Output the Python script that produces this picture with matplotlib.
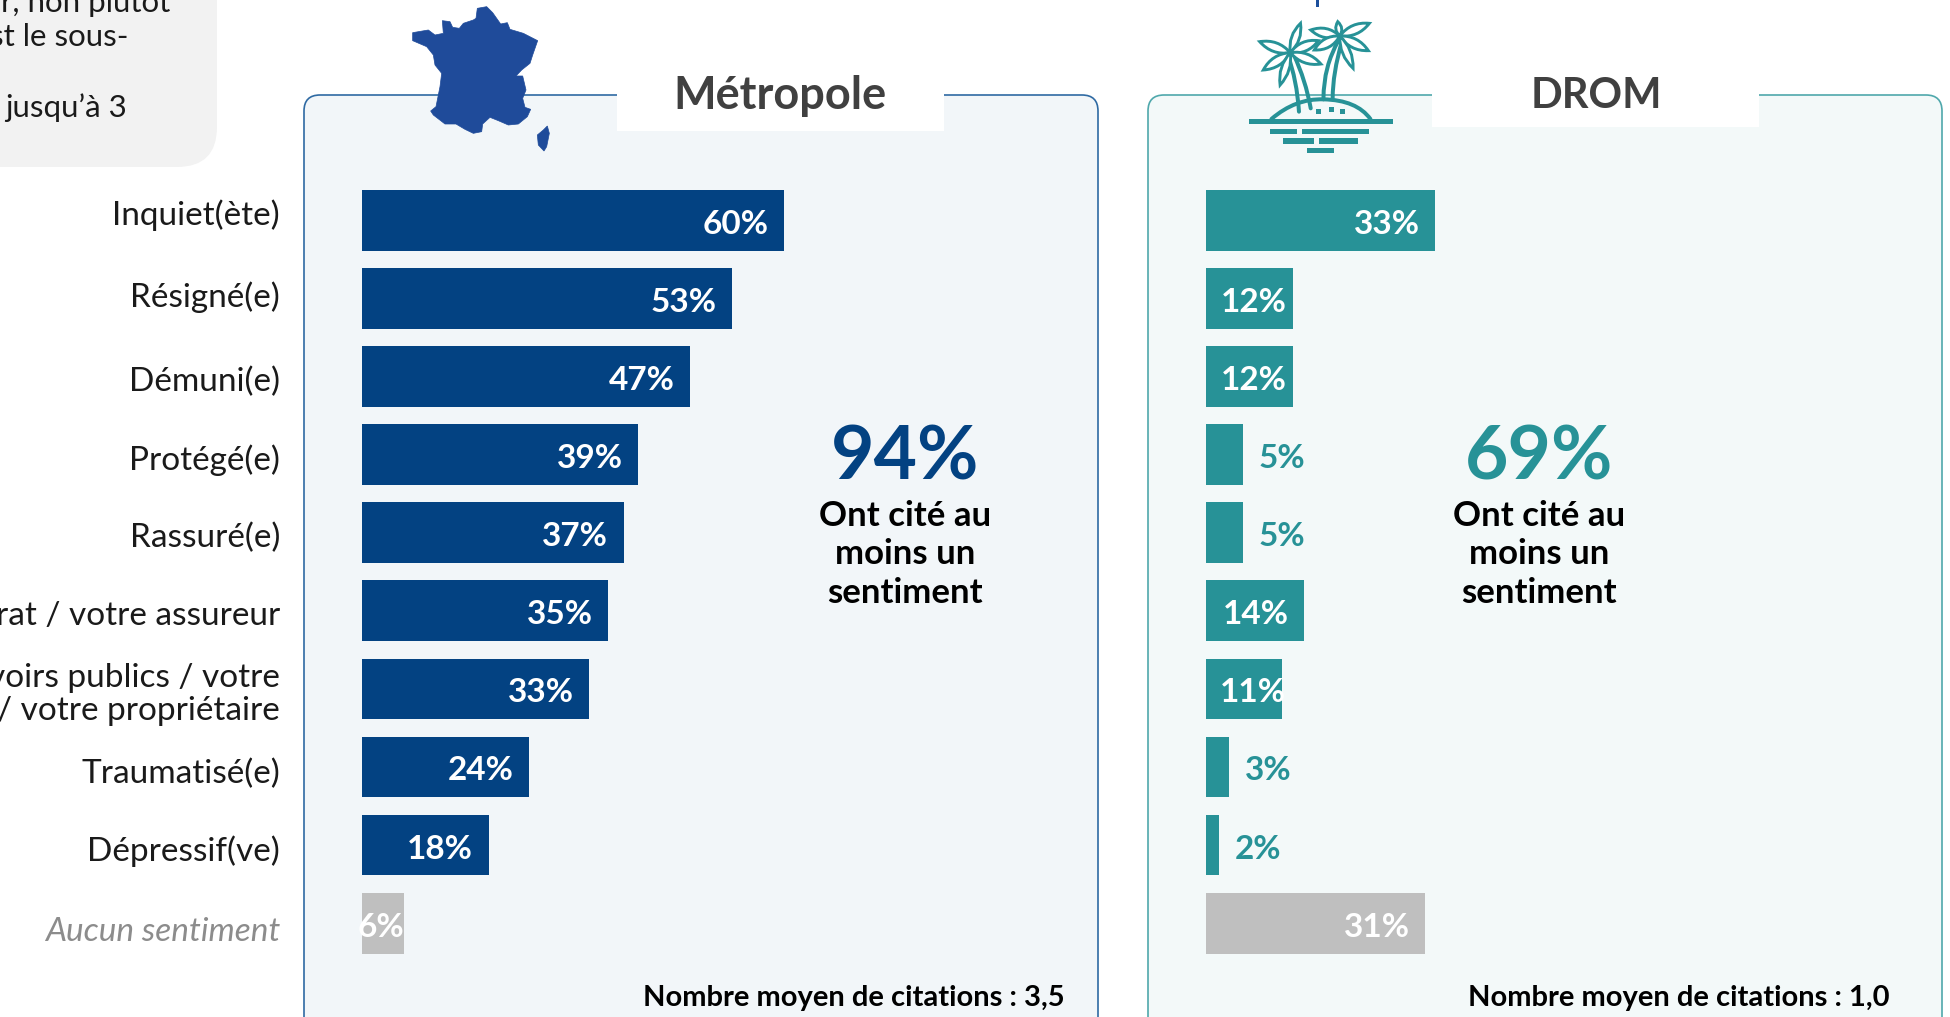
import numpy as np
import matplotlib
matplotlib.use("Agg")
import matplotlib.pyplot as plt
from matplotlib.patches import FancyBboxPatch, Rectangle, Polygon, PathPatch
from matplotlib.path import Path

plt.rcParams['font.family'] = ['Lato', 'DejaVu Sans']

categories = ["Inquiet(ète)", "Résigné(e)", "Démuni(e)", "Protégé(e)", "Rassuré(e)",
              "rat / votre assureur", "voirs publics / votre\n/ votre propriétaire",
              "Traumatisé(e)", "Dépressif(ve)", "Aucun sentiment"]
label_shift = [-0.10, -0.05, 0.03, 0.03, 0.03, 0.03, 0.01, 0.05, 0.04, 0.08]
metro_values = [60, 52.6, 46.7, 39.3, 37.2, 35, 32.3, 23.8, 18, 6]
metro_labels = ["60%", "53%", "47%", "39%", "37%", "35%", "33%", "24%", "18%", "6%"]
drom_values = [32.6, 12.4, 12.4, 5.2, 5.2, 14, 10.8, 3.3, 1.8, 31.2]
drom_labels = ["33%", "12%", "12%", "5%", "5%", "14%", "11%", "3%", "2%", "31%"]
note_lines = ["r, non plutôt", "st le sous-", "jusqu’à 3"]

NAVY, TEAL, GREY = "#034282", "#279297", "#bfbfbf"
W, H = 1950, 1017
fig = plt.figure(figsize=(W/100, H/100), dpi=100, facecolor="white")
bg = fig.add_axes([0, 0, 1, 1], zorder=0)
bg.set_xlim(0, W); bg.set_ylim(H, 0); bg.axis("off")

# note box (runs off the top left)
bg.add_patch(FancyBboxPatch((-100, -100), 317, 267, boxstyle="round,pad=0,rounding_size=40",
                            fc="#f2f2f2", ec="none"))
for s, x, y in zip(note_lines, [170, 129, 127], [3, 37, 108]):
    bg.text(x, y, s, ha="right", va="center", fontsize=22.5, color="#1a1a1a")

# panels
for (x0, x1, fc, ec) in [(304, 1098, "#f2f6f9", "#2f6aa3"), (1148, 1942, "#f3f9f9", "#4fa8ac")]:
    bg.add_patch(FancyBboxPatch((x0, 95), x1-x0, 950, boxstyle="round,pad=0,rounding_size=16",
                                fc=fc, ec=ec, lw=1.2))
bg.add_patch(Rectangle((617, 80), 327, 51, fc="white", ec="none", zorder=3))
bg.add_patch(Rectangle((1432, 80), 327, 47, fc="white", ec="none", zorder=3))
bg.text(780, 96, "Métropole", ha="center", va="center", fontsize=32.5, fontweight="bold", color="#404040", zorder=4)
bg.text(1596, 96, "DROM", ha="center", va="center", fontsize=30, fontweight="bold", color="#404040", zorder=4)

# small stray tick at the top
bg.add_patch(Rectangle((1316, 0), 2.5, 7, fc="#1c4f9c", ec="none"))

# France icon
fr = [(258,55),(262,25),(290,20),(308,38),(332,72),(352,68),(360,88),(400,100),(443,122),(428,165),
      (420,190),(395,210),(378,228),(398,228),(408,270),(398,295),(405,322),(422,328),(412,350),
      (385,372),(355,375),(325,362),(300,352),(278,372),(275,395),(250,400),(225,388),(198,372),
      (165,372),(130,345),(122,333),(138,320),(150,260),(155,220),(135,195),(130,165),(110,140),
      (68,122),(68,98),(115,90),(135,105),(160,100),(157,62),(180,65),(188,82),(208,85),(220,70),(250,60)]
co = [(472,378),(478,400),(470,440),(462,453),(445,435),(442,405),(460,390)]
for poly in (fr, co):
    bg.add_patch(Polygon([(390+a/3, b/3) for a, b in poly], closed=True, fc="#1f4b9a", ec="#1f4b9a", lw=0.5, zorder=5))

# palm island icon
def P(a, b):
    return (1150+a/1.96, b/3)
for a0, a1, b0, b1 in [(194,476,357,372),(236,289,386,401),(298,430,386,401),(260,321,415,431),
                       (331,407,415,431),(307,360,444,459),(325,335,328,343),(350,360,322,335),(372,382,328,343)]:
    x, y = P(a0, b0); x2, y2 = P(a1, b1)
    bg.add_patch(Rectangle((x, y), x2-x, y2-y, fc=TEAL, ec="none", zorder=5))
def curve(p0, c, p1, lw=3.2):
    path = Path([P(*p0), P(*c), P(*p1)], [Path.MOVETO, Path.CURVE3, Path.CURVE3])
    bg.add_patch(PathPatch(path, fc="none", ec=TEAL, lw=lw*0.72, zorder=5, capstyle="round"))
curve((238,357),(285,295),(340,298),4)
curve((340,298),(405,300),(432,357),4)
for t in [((292,335),(288,240),(270,165)), ((315,325),(305,240),(282,165)),
          ((340,295),(340,200),(370,120)), ((358,295),(358,220),(376,125))]:
    curve(*t, 4)
def leaf(base, tip, w):
    bx, by = P(*base); tx, ty = P(*tip)
    mx, my = (bx+tx)/2, (by+ty)/2
    nx, ny = -(ty-by), tx-bx
    n = np.hypot(nx, ny); nx, ny = nx/n*w, ny/n*w
    verts = [(bx, by), (mx+nx, my+ny), (tx, ty), (mx-nx, my-ny), (bx, by)]
    codes = [Path.MOVETO, Path.CURVE3, Path.CURVE3, Path.CURVE3, Path.CURVE3]
    bg.add_patch(PathPatch(Path(verts, codes), fc="white", ec=TEAL, lw=2.1, zorder=6))
for tip, w in [((215,125),9),((222,210),9),((255,255),8),((295,70),8),((330,122),9),((335,192),9)]:
    leaf((275,158), tip, w)
for tip, w in [((315,90),9),((368,65),6),((430,70),9),((428,152),9),((398,205),8),((322,150),9)]:
    leaf((372,108), tip, w)

# bar panels
TOP, PITCH, BAR = 220.3, 78.1, 60.7
def bars(left, values, labels, color, summary_pct, summary_x, note, note_x, yt):
    ax = fig.add_axes([left/W, 1-963/H, 703/W, (963-180)/H], zorder=2)
    ax.patch.set_alpha(0)
    rows = np.arange(len(values))
    cols = [color]*(len(values)-1) + [GREY]
    ax.barh(rows, values, height=BAR/PITCH, color=cols)
    ax.set_xlim(0, 100)
    ax.set_ylim((963-TOP)/PITCH, (180-TOP)/PITCH)
    for sp in ax.spines.values():
        sp.set_visible(False)
    ax.set_xticks([])
    if yt:
        ax.set_yticks(rows+np.array(label_shift), categories, fontsize=24, color="#1a1a1a", linespacing=1.12)
        ax.tick_params(axis="y", length=0, pad=59)
        lab = ax.get_yticklabels()[-1]
        lab.set_fontstyle("italic"); lab.set_color("#8c8c8c")
    else:
        ax.set_yticks([])
    for r, v, s in zip(rows, values, labels):
        if v < 6:
            x, ha, c = v+2.3, "left", color
        elif v == 6:
            x, ha, c = v, "right", "white"
        elif v == 10.8:
            x, ha, c = v+0.6, "right", "white"
        elif v < 13:
            x, ha, c = v-0.9, "right", "white"
        else:
            x, ha, c = v-2.2, "right", "white"
        ax.text(x, r+0.05, s, ha=ha, va="center", color=c, fontsize=24, fontweight="bold", clip_on=False)
    bg.text(summary_x, 458, summary_pct, ha="center", va="center", fontsize=54, fontweight="bold", color=color)
    for y, s in zip([516, 554, 593], ["Ont cité au", "moins un", "sentiment"]):
        bg.text(summary_x, y, s, ha="center", va="center", fontsize=25, fontweight="bold", color="black")
    bg.text(note_x, 998, note, ha="right", va="center", fontsize=21, fontweight="bold", color="black")

bars(362, metro_values, metro_labels, NAVY, "94%", 905, "Nombre moyen de citations : 3,5", 1065, True)
bars(1206, drom_values, drom_labels, TEAL, "69%", 1539, "Nombre moyen de citations : 1,0", 1889, False)

fig.savefig("out.png", dpi=100)
